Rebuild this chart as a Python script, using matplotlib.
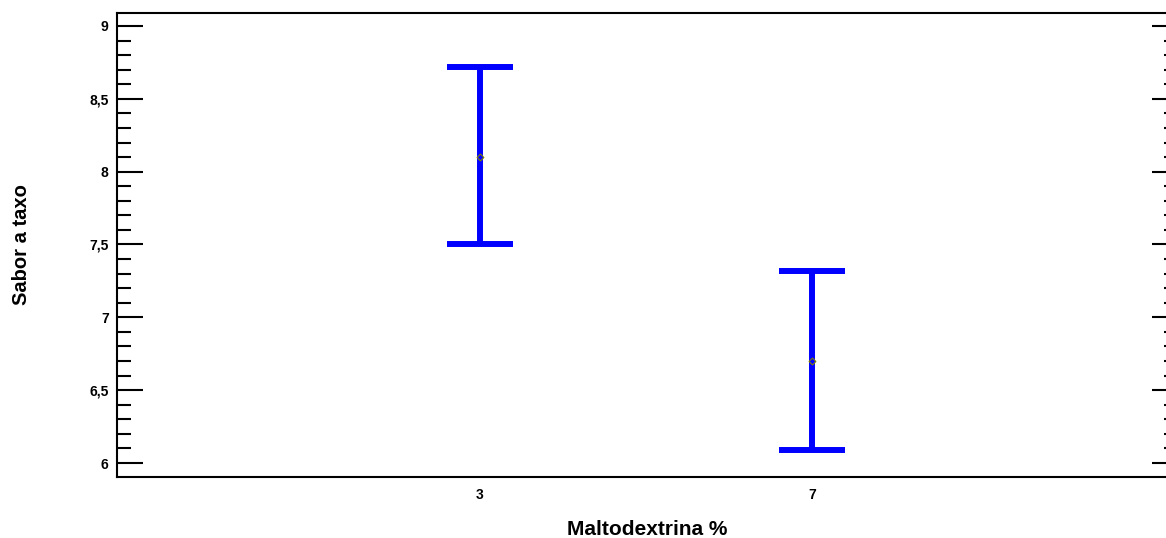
import numpy as np
import matplotlib.pyplot as plt
from matplotlib.ticker import MultipleLocator

# Medias e intervalos
niveles = ['3', '7']
medias = [8.1, 6.7]
lim_inf = [7.5, 6.09]
lim_sup = [8.72, 7.32]

plt.rcParams['font.family'] = ['Liberation Sans', 'DejaVu Sans']

x = np.arange(1, len(niveles) + 1)
medias = np.array(medias)
err = [medias - np.array(lim_inf), np.array(lim_sup) - medias]

fig = plt.figure(figsize=(11.66, 5.38), dpi=100)
ax = fig.add_axes([117 / 1166, 1 - 477 / 538, (1178 - 117) / 1166, (477 - 13) / 538])

ax.errorbar(x, medias, yerr=err, fmt='none', ecolor='#0000ff', elinewidth=4.3,
            capsize=24, capthick=4.3)
ax.plot(x, medias, 'D', ms=3.5, mfc='none', mec='#808000', mew=0.8)

ax.set_xlim(-0.093, 3.102)
ax.set_ylim(5.904, 9.089)
ax.set_xticks(x)
ax.set_xticklabels(niveles)
ax.tick_params(axis='x', length=0, pad=8, labelsize=10)
ax.yaxis.set_major_locator(MultipleLocator(0.5))
ax.yaxis.set_minor_locator(MultipleLocator(0.1))
ax.yaxis.set_major_formatter(lambda v, p: f'{v:g}'.replace('.', ','))
ax.tick_params(axis='y', which='major', direction='in', length=19, width=1.5,
               labelsize=10, right=True, pad=6)
ax.tick_params(axis='y', which='minor', direction='in', length=10, width=1.5, right=True)
for lab in ax.get_xticklabels() + ax.get_yticklabels():
    lab.set_fontweight('bold')
for s in ax.spines.values():
    s.set_linewidth(1.5)

ax.set_xlabel('Maltodextrina %', fontsize=15, fontweight='bold', labelpad=13)
ax.set_ylabel('Sabor a taxo', fontsize=14.5, fontweight='bold', labelpad=42)

fig.savefig('out.png', dpi=100)
